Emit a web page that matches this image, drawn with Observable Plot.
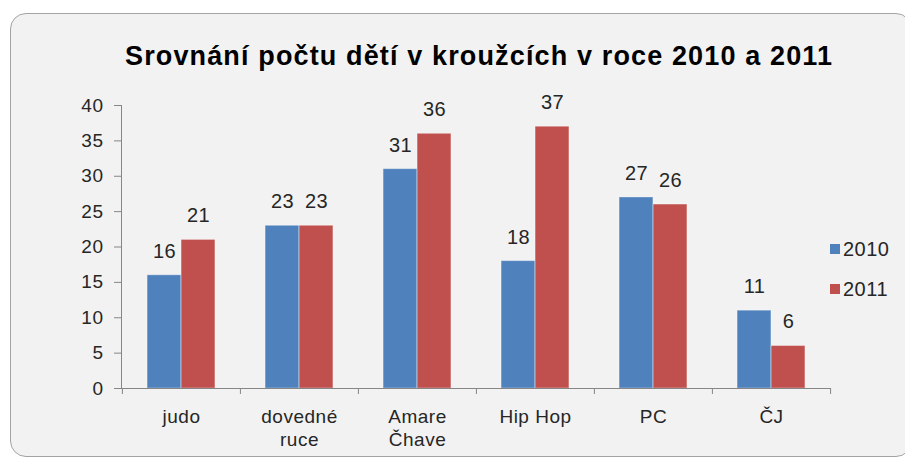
<!DOCTYPE html>
<html>
<head>
<meta charset="utf-8">
<script src="https://cdn.jsdelivr.net/npm/d3@7"></script>
<script src="https://cdn.jsdelivr.net/npm/@observablehq/plot@0.6"></script>
<style>
  html, body { margin: 0; padding: 0; background: #ffffff; }
  #wrap { position: relative; width: 905px; height: 459px; overflow: hidden; font-family: "Liberation Sans", Arial, sans-serif; }
  #box { position: absolute; left: 10px; top: 13px; width: 900px; height: 442px; background: #f2f2f2; border: 1.5px solid #a3a3a3; border-radius: 16px; }
  #title { position: absolute; left: 125px; top: 43px; font-weight: bold; font-size: 27px; line-height: 27px; color: #000; white-space: nowrap; }
  #chart { position: absolute; left: 0; top: 0; }
  .leg { position: absolute; font-size: 20px; color: #262626; line-height: 20px; letter-spacing: 0.5px; }
  .sw { position: absolute; width: 10px; height: 10px; }
</style>
</head>
<body>
<div id="wrap">
  <div id="box"></div>
  <div id="title"></div>
  <div id="chart"></div>
  <div id="legend"></div>
</div>
<script>
const titleText = "Srovnání počtu dětí v kroužcích v roce 2010 a 2011";
const categories = ["judo", "dovedné\nruce", "Amare\nČhave", "Hip Hop", "PC", "ČJ"];
const series = ["2010", "2011"];
const values2010 = [16, 23, 31, 18, 27, 11];
const values2011 = [21, 23, 36, 37, 26, 6];
const yTicks = [0, 5, 10, 15, 20, 25, 30, 35, 40];
const colors = ["#4f81bd", "#c0504d"];

const rows = categories.map((c, i) => ({cat: c, v2010: values2010[i], v2011: values2011[i]}));

const W = 905, H = 459;
const mL = 121, mR = 75, mT = 105, mB = 71;
const bw = (W - mL - mR) / categories.length;
const barW = 34;

// title: adjust letter spacing to the reference's width
const titleEl = document.getElementById("title");
titleEl.textContent = titleText;
{
  const ctx = document.createElement("canvas").getContext("2d");
  ctx.font = 'bold 27px "Liberation Sans", Arial, sans-serif';
  const w = ctx.measureText(titleText).width;
  const ls = (707 - w) / (titleText.length - 1);
  titleEl.style.letterSpacing = ls + "px";
}

const chart = Plot.plot({
  width: W,
  height: H,
  marginLeft: mL,
  marginRight: mR,
  marginTop: mT,
  marginBottom: mB,
  style: {background: "transparent", fontFamily: "Liberation Sans, Arial, sans-serif", overflow: "visible", letterSpacing: "0.5px"},
  x: {domain: categories, padding: 0, axis: null},
  y: {domain: [0, 40], axis: null},
  marks: [
    Plot.barY(rows, {x: "cat", y: "v2010", fill: colors[0], insetLeft: bw / 2 - barW, insetRight: bw / 2, stroke: "#ffffff", strokeOpacity: 0.35}),
    Plot.barY(rows, {x: "cat", y: "v2011", fill: colors[1], insetLeft: bw / 2, insetRight: bw / 2 - barW, stroke: "#ffffff", strokeOpacity: 0.35}),
    Plot.text(rows, {x: "cat", y: "v2010", text: d => String(d.v2010), dx: -barW / 2, dy: -24, fontSize: 20, fill: "#262626"}),
    Plot.text(rows, {x: "cat", y: "v2011", text: d => String(d.v2011), dx: barW / 2, dy: -24, fontSize: 20, fill: "#262626"}),
    Plot.frame({anchor: "left", stroke: "#868686"}),
    Plot.frame({anchor: "bottom", stroke: "#868686"}),
    Plot.ruleX(categories, {x: d => d, dx: -bw / 2, y1: 0, y2: -0.85, stroke: "#868686"}),
    Plot.ruleX(categories.slice(-1), {x: d => d, dx: bw / 2, y1: 0, y2: -0.85, stroke: "#868686"}),
    Plot.axisY({ticks: yTicks, tickSize: 7, tickPadding: 11, fontSize: 19, stroke: "#868686", fill: "#262626", label: null}),
    Plot.axisX({tickSize: 0, tickPadding: 17, fontSize: 19, fill: "#262626", lineHeight: 1.26, label: null})
  ]
});
document.getElementById("chart").appendChild(chart);

const legend = document.getElementById("legend");
series.forEach((s, i) => {
  const top = 244 + i * 40;
  const sw = document.createElement("div");
  sw.className = "sw";
  sw.style.left = "830px";
  sw.style.top = top + "px";
  sw.style.background = colors[i];
  legend.appendChild(sw);
  const t = document.createElement("div");
  t.className = "leg";
  t.style.left = "843px";
  t.style.top = (top - 5) + "px";
  t.textContent = s;
  legend.appendChild(t);
});
</script>
</body>
</html>
